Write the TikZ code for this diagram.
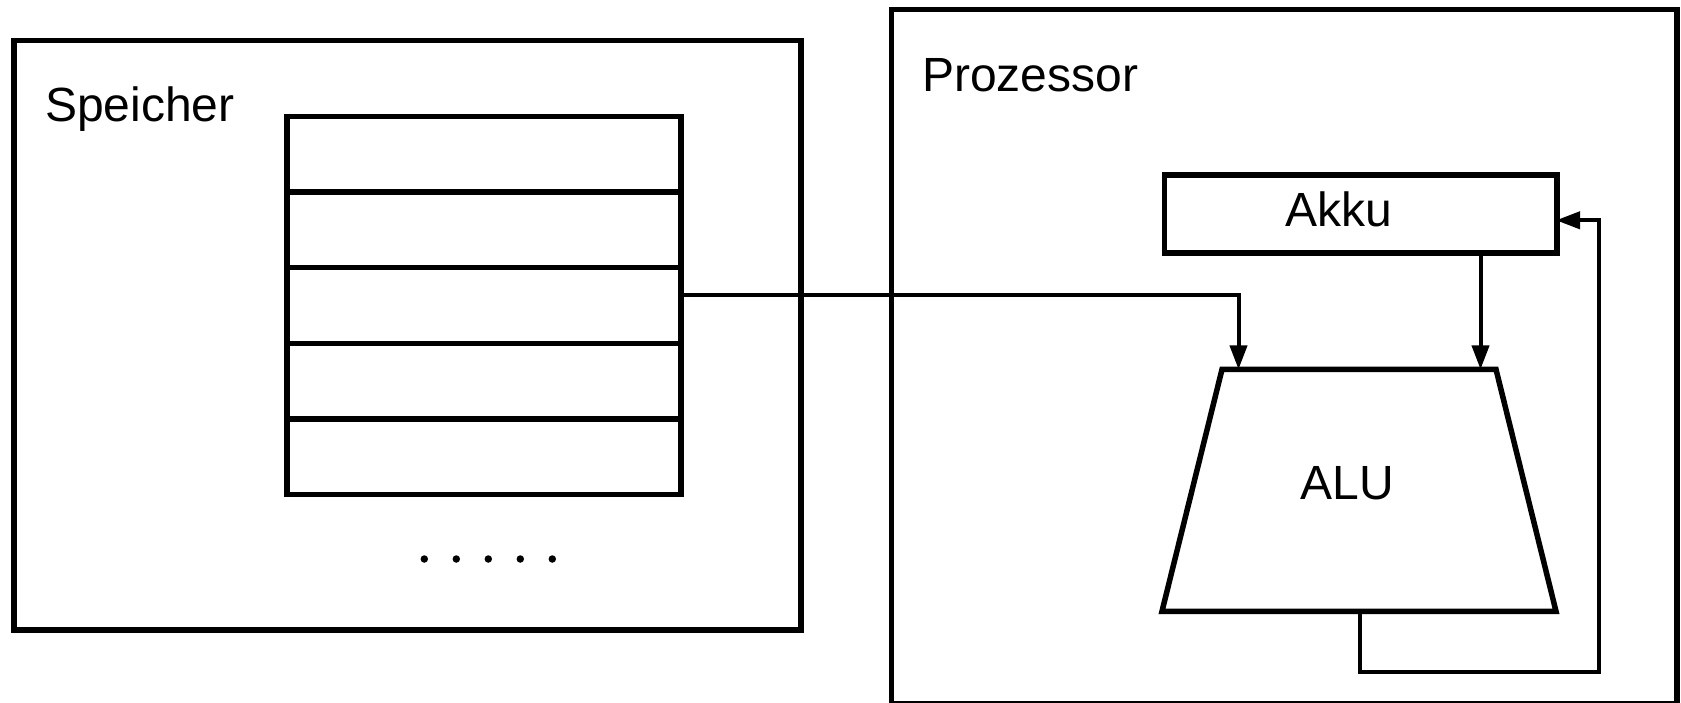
\documentclass[tikz,border=0pt]{standalone}
\usepackage{fontspec}
\setmainfont{Liberation Sans}
\usetikzlibrary{arrows.meta}
\begin{document}
\begin{tikzpicture}[x=1pt,y=-1pt,
  box/.style={draw,line width=5.5pt,inner sep=0pt,anchor=north west},
  cell/.style={box,minimum width=394pt,minimum height=75.5pt},
  lbl/.style={font=\fontsize{48}{57}\selectfont,inner sep=0pt},
  wire/.style={line width=4pt},
  arr/.style={wire,-{Triangle[length=24pt,width=17pt]}},
  dot/.style={circle,fill,inner sep=0pt,minimum size=7.5pt}]
\useasboundingbox (0,0) rectangle (1681,703);
% Speicher
\node[box,minimum width=787pt,minimum height=589pt] (speicher) at (11,38) {};
\node[lbl,anchor=base west] (speicherlbl) at (45,122) {Speicher};
\node[cell] (m1) at (284,114) {};
\node[cell] (m2) at (284,189.5) {};
\node[cell] (m3) at (284,265) {};
\node[cell] (m4) at (284,340.5) {};
\node[cell] (m5) at (284,416) {};
\foreach \i in {0,...,4} {\node[dot] (d\i) at (424.3+32*\i,559) {};}
% Prozessor
\node[box,minimum width=785.5pt,minimum height=694pt] (proz) at (888.5,6.7) {};
\node[lbl,anchor=base west] (prozlbl) at (922,92) {Prozessor};
\node[box,minimum width=392.5pt,minimum height=78pt] (akku) at (1161.5,172.4) {};
\node[lbl,anchor=base] (akkulbl) at (1339,227) {Akku};
% ALU
\coordinate (alutl) at (1222,369.4);
\coordinate (alutr) at (1496,369.4);
\coordinate (alubr) at (1556,611.3);
\coordinate (alubl) at (1162,611.3);
\draw[line width=5.5pt,line join=miter] (alutl) -- (alutr) -- (alubr) -- (alubl) -- cycle;
\node[lbl,anchor=base] (alulbl) at (1347,499) {ALU};
% connectors
\coordinate (memout) at (678,295);
\coordinate (aluinL) at (1238.5,369.4);
\coordinate (aluinR) at (1480.5,369.4);
\coordinate (aluout) at (1359.7,611.3);
\coordinate (fbcorner) at (1599,672);
\coordinate (akkuin) at (1556,220.3);
\draw[arr] (memout) -| (aluinL);
\draw[arr] (akku.south -| aluinR) -- (aluinR);
\draw[arr] (aluout) |- (fbcorner) |- (akkuin);
\end{tikzpicture}
\end{document}
